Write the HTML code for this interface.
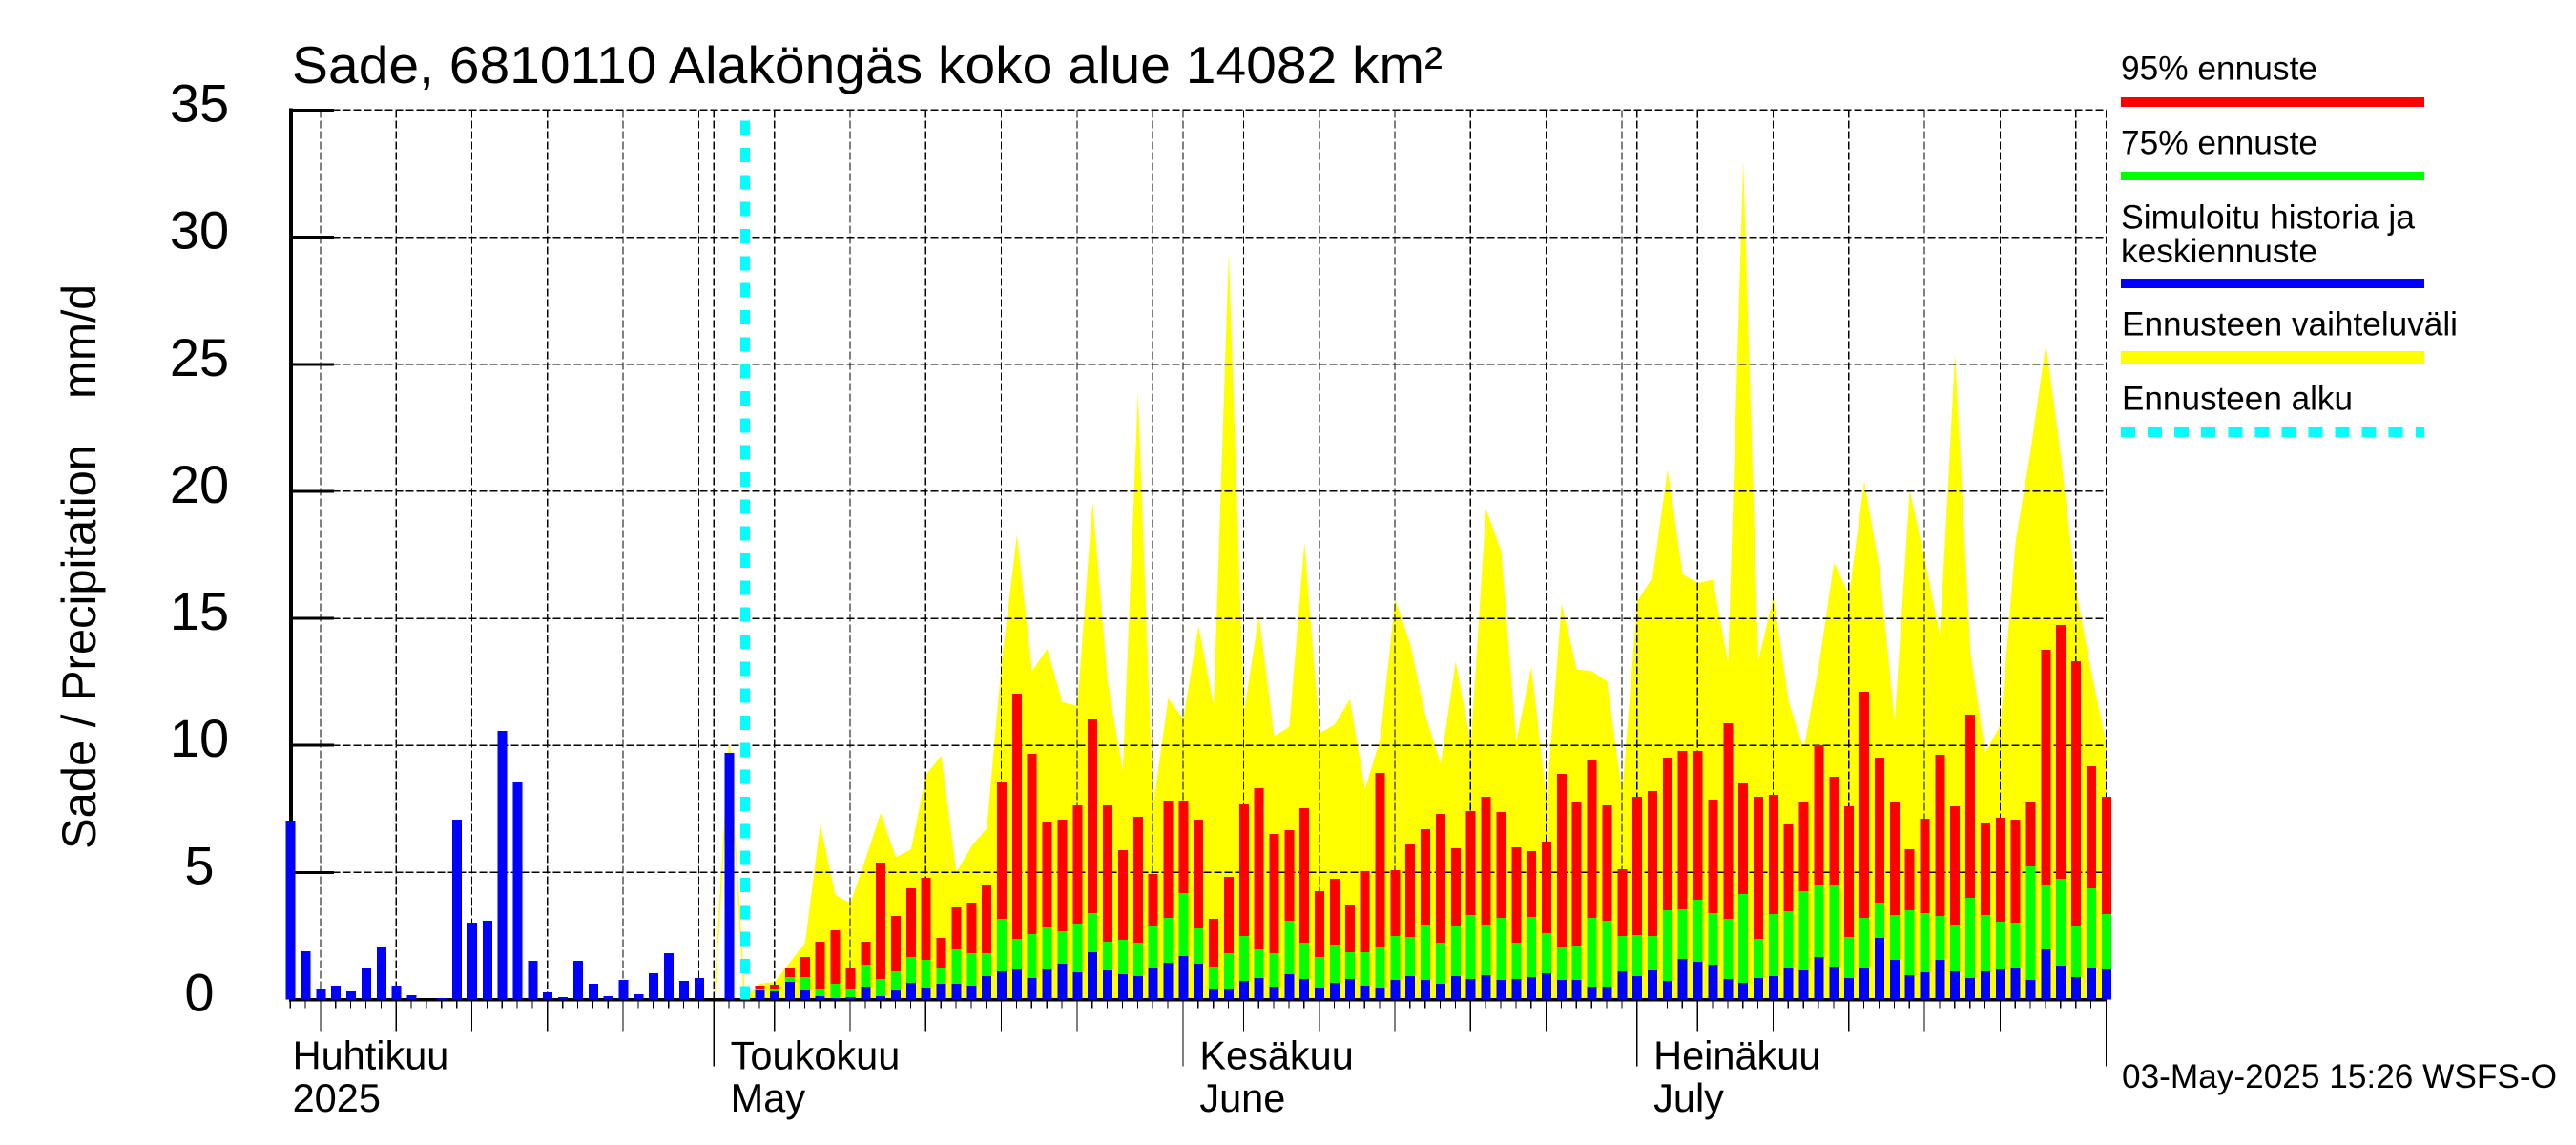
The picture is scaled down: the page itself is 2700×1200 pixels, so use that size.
<!DOCTYPE html>
<html lang="fi">
<head>
<meta charset="utf-8">
<title>Sade, 6810110 Alaköngäs koko alue</title>
<style>
html,body{margin:0;padding:0;background:#fff;}
svg{display:block;}
text{font-family:"Liberation Sans",sans-serif;fill:#000;white-space:pre;}
</style>
</head>
<body>
<svg id="chart" xmlns="http://www.w3.org/2000/svg" width="2700" height="1200" viewBox="0 0 2700 1200">
  <rect x="0" y="0" width="2700" height="1200" fill="#fff"/>
  <g id="range-layer"></g>
  <g id="grid-layer" shape-rendering="crispEdges"></g>
  <g id="axis-layer" shape-rendering="crispEdges"></g>
  <g id="bar-layer" shape-rendering="crispEdges"></g>
  <g id="label-layer"></g>
  <line id="forecast-start" stroke="#00ffff" stroke-width="10" stroke-dasharray="15 13.33" shape-rendering="crispEdges"/>

  <text x="306" y="87" font-size="55" textLength="1206" lengthAdjust="spacingAndGlyphs">Sade, 6810110 Alaköngäs koko alue 14082 km²</text>
  <text transform="translate(100 890) rotate(-90)" font-size="50" textLength="424" lengthAdjust="spacingAndGlyphs">Sade / Precipitation</text>
  <text transform="translate(100 418) rotate(-90)" font-size="50" textLength="120" lengthAdjust="spacingAndGlyphs">mm/d</text>

  <g>
    <text x="2223" y="83.5" font-size="35" textLength="206" lengthAdjust="spacingAndGlyphs">95% ennuste</text>
    <rect x="2223" y="102" width="318" height="10" fill="#ff0000"/>
    <text x="2223" y="161.5" font-size="35" textLength="206" lengthAdjust="spacingAndGlyphs">75% ennuste</text>
    <rect x="2223" y="180" width="318" height="9" fill="#00ff00"/>
    <text x="2223" y="239.5" font-size="35" textLength="308" lengthAdjust="spacingAndGlyphs">Simuloitu historia ja</text>
    <text x="2223" y="275" font-size="35" textLength="206" lengthAdjust="spacingAndGlyphs">keskiennuste</text>
    <rect x="2223" y="292" width="318" height="10" fill="#0000ff"/>
    <text x="2224" y="351.5" font-size="35" textLength="352" lengthAdjust="spacingAndGlyphs">Ennusteen vaihteluväli</text>
    <rect x="2223" y="368" width="318" height="14" fill="#ffff00"/>
    <text x="2224" y="429.5" font-size="35" textLength="242" lengthAdjust="spacingAndGlyphs">Ennusteen alku</text>
    <line x1="2223" y1="453" x2="2541" y2="453" stroke="#00ffff" stroke-width="10" stroke-dasharray="15 13.07" shape-rendering="crispEdges"/>
  </g>

  <text x="2224" y="1140" font-size="35" textLength="456" lengthAdjust="spacingAndGlyphs">03-May-2025 15:26 WSFS-O</text>
</svg>

<script>
// Values in mm/d. historyValues starts on day 0 (3 April 2025).
const historyValues = [7.04,1.9,.43,.55,.32,1.22,2.05,.55,.17,0,.05,7.07,3.02,3.1,10.57,8.54,1.52,.28,.09,1.52,.62,.13,.77,.2,1.03,1.82,.73,.85,0,9.7];
// Forecast bars start on day 31.
const forecast95 = [.545,.582,1.258,1.67,2.27,2.72,1.258,2.27,5.39,3.29,
4.37,4.79,2.42,3.62,3.81,4.49,8.54,12.03,9.67,7.0,
7.08,7.64,11.02,7.64,5.88,7.19,4.94,7.83,7.83,7.08,
3.17,4.83,7.68,8.32,6.52,6.67,7.53,4.26,4.75,3.74,
5.05,8.92,5.09,6.1,6.7,7.3,5.95,7.42,7.98,7.38,
5.99,5.84,6.21,8.88,7.79,9.44,7.64,5.13,7.98,8.2,
9.52,9.78,9.78,7.87,10.87,8.5,7.98,8.05,6.89,7.79,
10.0,8.77,7.6,12.11,9.52,7.79,5.91,7.12,9.63,7.6,
11.21,6.93,7.15,7.08,7.79,13.76,14.74,13.31,9.18,7.98];
const forecast75 = [.432,.432,.882,.882,.394,.62,.394,1.37,.807,1.108,
1.67,1.558,1.258,1.97,1.82,1.82,3.17,2.38,2.57,2.84,
2.68,2.985,3.4,2.27,2.35,2.23,2.87,3.21,4.19,2.8,
1.296,1.82,2.5,1.97,1.82,3.1,2.23,1.67,2.16,1.86,
1.86,2.08,2.5,2.46,2.95,2.23,2.87,3.32,2.95,3.21,
2.23,3.25,2.61,2.04,2.12,3.21,3.1,2.5,2.53,2.5,
3.51,3.55,3.92,3.4,3.17,4.15,2.38,3.36,3.47,4.26,
4.52,4.52,2.46,3.21,3.81,3.32,3.51,3.4,3.29,2.95,
4.0,3.32,3.06,3.02,5.24,4.49,4.75,2.87,4.37,3.36];
const forecastMean = [.357,.319,.695,.357,.131,.056,.094,.507,.131,.357,
.657,.469,.62,.62,.545,.92,1.108,1.18,.845,1.18,
1.41,1.07,1.86,1.145,.995,.92,1.22,1.446,1.71,1.41,
.432,.394,.732,.845,.507,.995,.807,.469,.657,.807,
.545,.469,.77,.92,.77,.62,.92,.807,.957,.77,
.807,.882,1.03,.77,.77,.507,.507,1.108,.92,1.145,
.732,1.6,1.48,1.37,.807,.657,.845,.92,1.258,1.145,
1.67,1.296,.845,1.22,2.42,1.558,.957,1.07,1.558,1.108,
.845,1.108,1.18,1.22,.77,1.97,1.33,.882,1.22,1.18];
// Range envelope starts on day 30 (the forecast start).
const forecastRange = [0,.62,.695,1.47,2.22,6.89,4.11,3.79,5.54,7.34,
5.6,5.91,8.85,9.6,5.01,6.04,6.73,13.3,18.3,12.92,
13.8,11.7,11.55,19.6,12.5,8.99,23.9,7.6,11.86,11.02,
14.7,11.57,29.4,11.3,15.1,10.36,10.73,18.0,10.48,10.82,
11.82,8.29,10.23,15.75,13.99,11.17,9.29,13.3,10.05,19.3,
17.67,10.17,13.1,7.88,15.6,12.99,12.92,12.52,8.1,15.68,
16.6,20.85,16.74,16.39,16.52,13.24,33.0,13.36,15.85,11.73,
9.86,13.17,17.2,15.93,20.4,17.0,10.92,20.05,17.34,14.34,
25.4,13.7,9.73,10.8,18.0,21.63,25.8,21.36,16.1,12.92,10.05];
// Thin envelope outline for days 28, 29, 30 (before the filled range).
const spinupRange = [0,10,0];
const yTicks = [0,5,10,15,20,25,30,35];
const yTickLabels = ["0","5","10","15","20","25","30","35"];
const monthDays = [28,59,89,120];
const monthEndDays = [27,57,88,118];
const fiveDayTicks = [2,7,12,17,22,32,37,42,47,52,63,68,73,78,83,93,98,103,108,113];
const monthLabelDays = [0,28,59,89];
const monthLabelsFi = ["Huhtikuu","Toukokuu","Kesäkuu","Heinäkuu"];
const monthLabelsEn = ["2025","May","June","July"];
const totalDays = 120;
const historyStartDay = 0;
const spinupStartDay = 28;
const rangeStartDay = 30;
const forecastStartDay = 31;
const forecastLineDay = 30;

const SVGNS = "http://www.w3.org/2000/svg";
const xAt = d => 304.6 + 15.86 * d;
const yAt = v => 1047.5 - 26.63 * v;
const baseY = yAt(0);
const layer = id => document.getElementById(id);
function make(tag, parent, attrs) {
  const el = document.createElementNS(SVGNS, tag);
  for (const k in attrs) el.setAttribute(k, attrs[k]);
  parent.appendChild(el);
  return el;
}

// ---- range envelope ----
(function () {
  const pts = [[xAt(rangeStartDay), baseY]];
  forecastRange.forEach((v, i) => pts.push([xAt(rangeStartDay + i), yAt(v)]));
  pts.push([xAt(totalDays), baseY]);
  const area = make("polygon", layer("range-layer"), {points: pts.map(p => p[0].toFixed(1) + "," + p[1].toFixed(1)).join(" "), fill: "#ffff00"});
  
  
  const line = make("polyline", layer("range-layer"), {
    points: spinupRange.map((v, i) => xAt(spinupStartDay + i).toFixed(1) + "," + yAt(v).toFixed(1)).join(" "),
    fill: "none", stroke: "#ffff00", "stroke-width": 1.5
  });
  
  
})();

// ---- grid ----
yTicks.forEach(v => {
  const g = make("line", layer("grid-layer"), {x1: xAt(0), x2: xAt(totalDays), y1: yAt(v), y2: yAt(v), stroke: "#000", "stroke-width": 1.5, "stroke-dasharray": "8 3"});
  
  
});
fiveDayTicks.concat(monthDays, monthEndDays).forEach(d => {
  const g = make("line", layer("grid-layer"), {x1: xAt(d) - 0.4, x2: xAt(d) - 0.4, y1: yAt(35), y2: baseY, stroke: "#000", "stroke-width": 1.2, "stroke-dasharray": "8 3"});
  
  
});

// ---- axes ----
(function () {
  const yAxis = make("rect", layer("axis-layer"), {x: 303, y: yAt(35) - 2, width: 4, height: baseY - yAt(35) + 4, fill: "#000"});
  
  
  const xAxis = make("rect", layer("axis-layer"), {x: 303, y: 1046, width: xAt(totalDays) - 303, height: 3.5, fill: "#000"});
  
  
  yTicks.forEach(v => {
    const t = make("rect", layer("axis-layer"), {x: 305, y: yAt(v) - 1.5, width: 45, height: 3, fill: "#000"});
    
    
  });
  for (let d = 0; d <= totalDays; d++) {
    let end = 1056.7;
    if (fiveDayTicks.includes(d)) end = 1081.7;
    if (monthDays.includes(d)) end = 1117.7;
    const t = make("line", layer("axis-layer"), {x1: xAt(d) - 0.4, x2: xAt(d) - 0.4, y1: 1048, y2: end, stroke: "#000", "stroke-width": 1.2});
    
    
  }
})();

// ---- bars ----
function drawBar(d, v, color) {
  const top = yAt(v);
  return make("rect", layer("bar-layer"), {x: xAt(d) - 5, y: top, width: 10, height: Math.max(0, baseY - top), fill: color});
}
historyValues.forEach((v, i) => {
  const b = drawBar(historyStartDay + i, v, "#0000ff");
  
  
});
forecast95.forEach((v, i) => {
  const b = drawBar(forecastStartDay + i, v, "#ff0000");
  
  
});
forecast75.forEach((v, i) => {
  const b = drawBar(forecastStartDay + i, v, "#00ff00");
  
  
});
forecastMean.forEach((v, i) => {
  const b = drawBar(forecastStartDay + i, v, "#0000ff");
  
  
});

// ---- forecast start line ----
(function () {
  const l = layer("forecast-start");
  l.setAttribute("x1", xAt(forecastLineDay) + 0.5);
  l.setAttribute("x2", xAt(forecastLineDay) + 0.5);
  l.setAttribute("y1", 126.7);
  l.setAttribute("y2", baseY);
})();

// ---- tick labels ----
yTicks.forEach((v, i) => {
  const t = make("text", layer("label-layer"), {x: 209, y: yAt(v) + 12, "font-size": 56, "text-anchor": "middle"});
  t.textContent = yTickLabels[i];
  
  
});
monthLabelDays.forEach((d, i) => {
  const px = xAt(d) + (i === 0 ? 2 : 17);
  const a = make("text", layer("label-layer"), {x: px, y: 1120.5, "font-size": 41.5});
  a.textContent = monthLabelsFi[i];
  
  
  const b = make("text", layer("label-layer"), {x: px, y: 1165, "font-size": 41.5});
  b.textContent = monthLabelsEn[i];
  
  
});
</script>
</body>
</html>
